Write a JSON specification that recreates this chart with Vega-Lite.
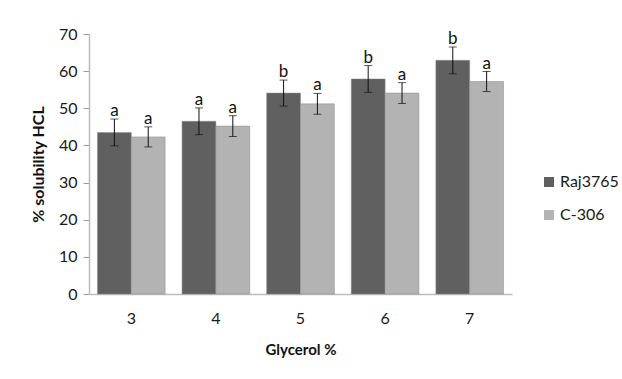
{
  "$schema": "https://vega.github.io/schema/vega-lite/v6.json",
  "autosize": {"type": "none"},
  "width": 423,
  "height": 260,
  "padding": {"left": 89, "top": 34, "right": 110, "bottom": 85},
  "background": "white",
  "config": {
    "font": "Lato",
    "view": {"stroke": null},
    "axis": {"grid": false, "labelFont": "Lato", "titleFont": "Lato", "labelColor": "#1a1a1a", "titleColor": "#111", "labelOverlap": false},
    "axisY": {"tickCount": 8}
  },
  "data": {
    "values": [
      {"glycerol": "3", "variety": "Raj3765", "value": 43.5, "err": 3.6, "letter": "a"},
      {"glycerol": "3", "variety": "C-306", "value": 42.3, "err": 2.7, "letter": "a"},
      {"glycerol": "4", "variety": "Raj3765", "value": 46.5, "err": 3.6, "letter": "a"},
      {"glycerol": "4", "variety": "C-306", "value": 45.2, "err": 2.8, "letter": "a"},
      {"glycerol": "5", "variety": "Raj3765", "value": 54.1, "err": 3.5, "letter": "b"},
      {"glycerol": "5", "variety": "C-306", "value": 51.2, "err": 2.8, "letter": "a"},
      {"glycerol": "6", "variety": "Raj3765", "value": 57.9, "err": 3.6, "letter": "b"},
      {"glycerol": "6", "variety": "C-306", "value": 54.1, "err": 2.8, "letter": "a"},
      {"glycerol": "7", "variety": "Raj3765", "value": 62.9, "err": 3.6, "letter": "b"},
      {"glycerol": "7", "variety": "C-306", "value": 57.2, "err": 2.7, "letter": "a"}
    ]
  },
  "transform": [
    {"calculate": "datum.value + datum.err", "as": "hi"},
    {"calculate": "datum.value - datum.err", "as": "lo"}
  ],
  "encoding": {
    "x": {
      "field": "glycerol", "type": "ordinal",
      "scale": {"paddingInner": 0.2, "paddingOuter": 0.1},
      "axis": {
        "title": "Glycerol %", "titleFontSize": 15, "titleFontWeight": "bold", "titlePadding": 16,
        "labelAngle": 0, "labelFontSize": 16, "labelPadding": 16, "ticks": false,
        "domainColor": "#bdbdbd", "domainWidth": 1.5
      }
    },
    "xOffset": {"field": "variety", "type": "nominal", "sort": ["Raj3765", "C-306"]}
  },
  "layer": [
    {
      "mark": {"type": "bar", "stroke": "#8a8a8a", "strokeWidth": 0.5},
      "encoding": {
        "y": {
          "field": "value", "type": "quantitative",
          "scale": {"domain": [0, 70], "nice": false},
          "axis": {
            "title": "% solubility HCL", "titleFontSize": 16, "titleFontWeight": "bold", "titlePadding": 12,
            "values": [0, 10, 20, 30, 40, 50, 60, 70], "labelOverlap": false,
            "labelFontSize": 16, "labelPadding": 6, "tickSize": 6, "tickColor": "#9a9a9a",
            "domainColor": "#bdbdbd", "domainWidth": 1.5
          }
        },
        "color": {
          "field": "variety", "type": "nominal",
          "scale": {"domain": ["Raj3765", "C-306"], "range": ["#606060", "#b3b3b3"]},
          "legend": {
            "title": null, "orient": "none", "legendX": 452, "legendY": 140,
            "symbolType": "square", "symbolSize": 100, "symbolStrokeWidth": 0,
            "labelFontSize": 16, "labelColor": "#1a1a1a", "labelOffset": 3, "rowPadding": 17
          }
        }
      }
    },
    {
      "mark": {"type": "rule", "color": "#111", "strokeWidth": 1},
      "encoding": {
        "y": {"field": "lo", "type": "quantitative", "axis": {
            "title": "% solubility HCL", "titleFontSize": 16, "titleFontWeight": "bold", "titlePadding": 12,
            "values": [0, 10, 20, 30, 40, 50, 60, 70], "labelOverlap": false,
            "labelFontSize": 16, "labelPadding": 6, "tickSize": 6, "tickColor": "#9a9a9a",
            "domainColor": "#bdbdbd", "domainWidth": 1.5
          }},
        "y2": {"field": "hi"}
      }
    },
    {
      "mark": {"type": "tick", "color": "#111", "thickness": 1, "size": 8},
      "encoding": {"y": {"field": "hi", "type": "quantitative", "axis": {
            "title": "% solubility HCL", "titleFontSize": 16, "titleFontWeight": "bold", "titlePadding": 12,
            "values": [0, 10, 20, 30, 40, 50, 60, 70], "labelOverlap": false,
            "labelFontSize": 16, "labelPadding": 6, "tickSize": 6, "tickColor": "#9a9a9a",
            "domainColor": "#bdbdbd", "domainWidth": 1.5
          }}}
    },
    {
      "mark": {"type": "tick", "color": "#111", "thickness": 1, "size": 8},
      "encoding": {"y": {"field": "lo", "type": "quantitative", "axis": {
            "title": "% solubility HCL", "titleFontSize": 16, "titleFontWeight": "bold", "titlePadding": 12,
            "values": [0, 10, 20, 30, 40, 50, 60, 70], "labelOverlap": false,
            "labelFontSize": 16, "labelPadding": 6, "tickSize": 6, "tickColor": "#9a9a9a",
            "domainColor": "#bdbdbd", "domainWidth": 1.5
          }}}
    },
    {
      "mark": {"type": "text", "baseline": "alphabetic", "dy": -3, "fontSize": 17, "color": "#111"},
      "encoding": {
        "y": {"field": "hi", "type": "quantitative", "axis": {
            "title": "% solubility HCL", "titleFontSize": 16, "titleFontWeight": "bold", "titlePadding": 12,
            "values": [0, 10, 20, 30, 40, 50, 60, 70], "labelOverlap": false,
            "labelFontSize": 16, "labelPadding": 6, "tickSize": 6, "tickColor": "#9a9a9a",
            "domainColor": "#bdbdbd", "domainWidth": 1.5
          }},
        "text": {"field": "letter"}
      }
    }
  ]
}
